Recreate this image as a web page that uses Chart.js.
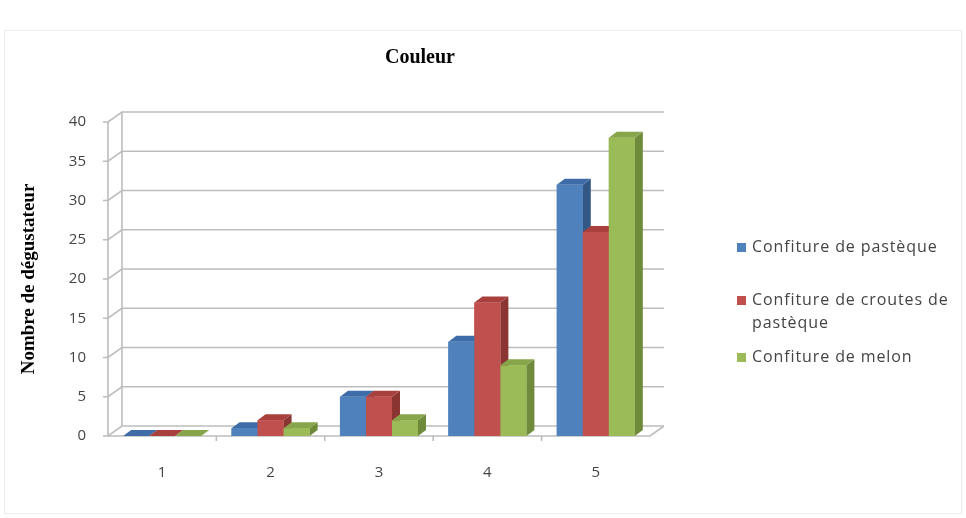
<!DOCTYPE html>
<html>
<head>
<meta charset="utf-8">
<script src="https://cdn.jsdelivr.net/npm/chart.js@4/dist/chart.umd.min.js"></script>
<style>
  body { margin: 0; background: #fff; overflow: hidden; }
  #wrap { position: relative; width: 966px; height: 518px; }
  #frame { position: absolute; left: 4px; top: 30px; width: 956px; height: 482px; border: 1px solid #ececec; }
  .legend { position: absolute; left: 737px; font-family: "Open Sans", sans-serif; font-size: 16px; letter-spacing: 0.9px; color: #444; line-height: 23px; white-space: nowrap; }
  .legend span.box { display: inline-block; width: 9px; height: 9px; margin-right: 6px; }
</style>
</head>
<body>
<div id="wrap">
  <div id="frame"></div>
  <canvas id="chart" width="966" height="518"></canvas>
  <div class="legend" style="top:235px"><span class="box" style="background:#4F81BD"></span>Confiture de pastèque</div>
  <div class="legend" style="top:288px"><span class="box" style="background:#C0504D"></span>Confiture de croutes de<br><span style="margin-left:15px">pastèque</span></div>
  <div class="legend" style="top:345px"><span class="box" style="background:#9BBB59"></span>Confiture de melon</div>
</div>
<script>
const notes = ["1", "2", "3", "4", "5"];
const pasteque = [0, 1, 5, 12, 32];
const croutes = [0, 2, 5, 17, 26];
const melon = [0, 1, 2, 9, 38];
const seriesNames = ["Confiture de pastèque", "Confiture de croutes de pastèque", "Confiture de melon"];
const yTicks = [0, 5, 10, 15, 20, 25, 30, 35, 40];

// front / side / top shades for each series
const shades = [
  { front: "#4F81BD", side: "#345886", top: "#3E6CA8" },
  { front: "#C0504D", side: "#8A3532", top: "#A8403D" },
  { front: "#9BBB59", side: "#6E8A3A", top: "#87A54A" },
];

const WALL_DX = 14, WALL_DY = 10;
const BAR_DX = 8, BAR_DY = 6;

// back wall, gridlines and floor drawn behind the bars
const wallPlugin = {
  id: "wall",
  beforeDatasetsDraw(chart) {
    const { ctx, chartArea: a, scales } = chart;
    const y = scales.y;
    ctx.save();
    ctx.strokeStyle = "#bdbdbd";
    ctx.lineWidth = 1.6;
    yTicks.forEach((v) => {
      const py = y.getPixelForValue(v);
      ctx.beginPath();
      ctx.moveTo(a.left - 5, py);
      ctx.lineTo(a.left, py);
      ctx.lineTo(a.left + WALL_DX, py - WALL_DY);
      ctx.lineTo(a.right + WALL_DX, py - WALL_DY);
      ctx.stroke();
    });
    ctx.beginPath();
    ctx.moveTo(a.left, a.bottom);
    ctx.lineTo(a.left, y.getPixelForValue(40));
    ctx.moveTo(a.left + WALL_DX, a.bottom - WALL_DY);
    ctx.lineTo(a.left + WALL_DX, y.getPixelForValue(40) - WALL_DY);
    ctx.moveTo(a.left, a.bottom);
    ctx.lineTo(a.right, a.bottom);
    ctx.lineTo(a.right + WALL_DX, a.bottom - WALL_DY);
    ctx.stroke();
    // category separators on the floor edge
    const x = scales.x;
    for (let i = 1; i < notes.length; i++) {
      const px = (x.getPixelForValue(i - 1) + x.getPixelForValue(i)) / 2;
      ctx.beginPath();
      ctx.moveTo(px, a.bottom);
      ctx.lineTo(px, a.bottom + 5);
      ctx.stroke();
    }
    ctx.restore();
  },
  afterDatasetsDraw(chart) {
    const { ctx } = chart;
    const metas = chart.data.datasets.map((d, i) => chart.getDatasetMeta(i));
    ctx.save();
    metas.forEach((meta, i) => {
      meta.data.forEach((bar) => {
        const x0 = bar.x - bar.width / 2, x1 = bar.x + bar.width / 2;
        const top = bar.y, base = bar.base;
        ctx.fillStyle = shades[i].side;
        ctx.beginPath();
        ctx.moveTo(x1, top);
        ctx.lineTo(x1 + BAR_DX, top - BAR_DY);
        ctx.lineTo(x1 + BAR_DX, base - BAR_DY);
        ctx.lineTo(x1, base);
        ctx.closePath();
        ctx.fill();
        ctx.fillStyle = shades[i].top;
        ctx.beginPath();
        ctx.moveTo(x0, top);
        ctx.lineTo(x0 + BAR_DX, top - BAR_DY);
        ctx.lineTo(x1 + BAR_DX, top - BAR_DY);
        ctx.lineTo(x1, top);
        ctx.closePath();
        ctx.fill();
      });
    });
    // fronts again so the next bar hides the previous side face
    metas.forEach((meta, i) => {
      meta.data.forEach((bar) => {
        ctx.fillStyle = shades[i].front;
        ctx.fillRect(bar.x - bar.width / 2, bar.y, bar.width, bar.base - bar.y);
      });
    });
    ctx.restore();
  },
  afterDraw(chart) {
    const { ctx } = chart;
    ctx.save();
    ctx.font = "bold 20px 'Liberation Serif'";
    ctx.fillStyle = "#000";
    ctx.textAlign = "center";
    ctx.textBaseline = "middle";
    ctx.fillText("Couleur", 420, 58);
    ctx.restore();
  },
};

const ctx = document.getElementById("chart").getContext("2d");
new Chart(ctx, {
  type: "bar",
  data: {
    labels: notes,
    datasets: [
      { label: seriesNames[0], data: pasteque, backgroundColor: shades[0].front },
      { label: seriesNames[1], data: croutes, backgroundColor: shades[1].front },
      { label: seriesNames[2], data: melon, backgroundColor: shades[2].front },
    ],
  },
  options: {
    responsive: false,
    animation: false,
    layout: { padding: { left: 14, right: 316, top: 122, bottom: 16 } },
    datasets: { bar: { barPercentage: 1, categoryPercentage: 0.72 } },
    scales: {
      y: {
        min: 0,
        max: 40,
        ticks: { stepSize: 5, color: "#444", font: { family: "Open Sans", size: 15 }, padding: 14 },
        grid: { display: false },
        border: { display: false },
        title: {
          display: true,
          text: "Nombre de dégustateur",
          color: "#000",
          font: { family: "Liberation Serif", weight: "bold", size: 19 },
          padding: { bottom: 14 },
        },
      },
      x: {
        ticks: { color: "#444", font: { family: "Open Sans", size: 15 }, padding: 20 },
        grid: { display: false },
        border: { display: false },
      },
    },
    plugins: { legend: { display: false }, title: { display: false }, tooltip: { enabled: false } },
  },
  plugins: [wallPlugin],
});
</script>
</body>
</html>
